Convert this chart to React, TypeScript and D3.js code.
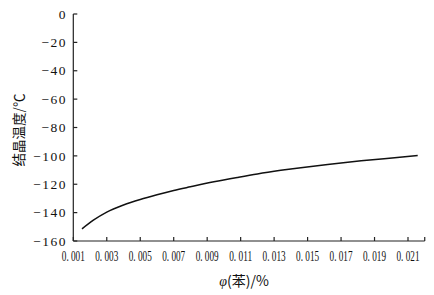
import React from "react";
import * as d3 from "d3";

const xTicks = [0.001, 0.003, 0.005, 0.007, 0.009, 0.011, 0.013, 0.015, 0.017, 0.019, 0.021];
const xTickLabels = ["0. 001", "0. 003", "0. 005", "0. 007", "0. 009", "0. 011", "0. 013", "0. 015", "0. 017", "0. 019", "0. 021"];
const yTicks = [0, -20, -40, -60, -80, -100, -120, -140, -160];
const phiValues = [0.00152, 0.0022, 0.003, 0.004, 0.005, 0.006, 0.007, 0.008, 0.0094, 0.0108, 0.012, 0.0134, 0.0146, 0.0162, 0.0182, 0.0202, 0.02158];
const tempValues = [-151.4, -145.3, -139.6, -134.6, -130.7, -127.4, -124.4, -121.8, -118.3, -115.2, -112.7, -110.2, -108.3, -106.0, -103.5, -101.3, -99.8];

const W = 434;
const H = 295;
const left = 73.3;
const top = 14;
const bottom = 241;

export default function App() {
  const x = d3.scaleLinear().domain([0.001, 0.021]).range([left, 408]);
  const y = d3.scaleLinear().domain([-160, 0]).range([bottom, top]);
  const pts = phiValues.map((v, i) => [v, tempValues[i]] as [number, number]);
  const line = d3
    .line<[number, number]>()
    .x((d) => x(d[0]))
    .y((d) => y(d[1]))
    .curve(d3.curveMonotoneX);
  const serif = "'Liberation Serif', 'DejaVu Serif', serif";
  const axisColor = "#222";
  return (
    <svg
      width={W}
      height={H}
      style={{ position: "absolute", left: 0, top: 0, background: "#fff" }}
      fontFamily={serif}
    >
      <rect x={0} y={0} width={W} height={H} fill="#fff" />
      {/* y axis */}
      <line x1={left} x2={left} y1={y(0)} y2={bottom} stroke={axisColor} strokeWidth={1.2} />
      {yTicks.map((t) => (
        <g key={t}>
          <line x1={left} x2={left + 4} y1={y(t)} y2={y(t)} stroke={axisColor} strokeWidth={1.2} />
          <text
            x={67}
            y={y(t) + 4.7}
            textAnchor="end"
            fontSize={13.5}
            letterSpacing={1.5}
            fill="#111"
          >
            {t < 0 ? "\u2212" + Math.abs(t) : String(t)}
          </text>
        </g>
      ))}
      {/* x axis */}
      <line x1={left} x2={x(0.022)} y1={bottom} y2={bottom} stroke={axisColor} strokeWidth={1.2} />
      {[...xTicks, 0.022].map((t) => (
        <line key={t} x1={x(t)} x2={x(t)} y1={bottom} y2={bottom - 4} stroke={axisColor} strokeWidth={1.2} />
      ))}
      {xTicks.map((t, i) => (
        <text
          key={"l" + t}
          x={x(t) - 11.5}
          y={bottom + 20}
          fontSize={14}
          textLength={23}
          lengthAdjust="spacingAndGlyphs"
          fill="#111"
        >
          {xTickLabels[i]}
        </text>
      ))}
      {/* curve */}
      <path d={line(pts) || ""} fill="none" stroke="#111" strokeWidth={1.5} />
      {/* axis titles */}
      <text
        transform={`translate(24, 130) rotate(-90)`}
        textAnchor="middle"
        fontSize={13.5}
        fontFamily="'Noto Sans CJK SC', sans-serif"
        fill="#111"
      >
        结晶温度/℃
      </text>
      <text x={244} y={286} textAnchor="middle" fontSize={14} fill="#111">
        <tspan fontStyle="italic">φ</tspan>
        <tspan fontFamily="'Noto Sans CJK SC', sans-serif">(苯)/%</tspan>
      </text>
    </svg>
  );
}
